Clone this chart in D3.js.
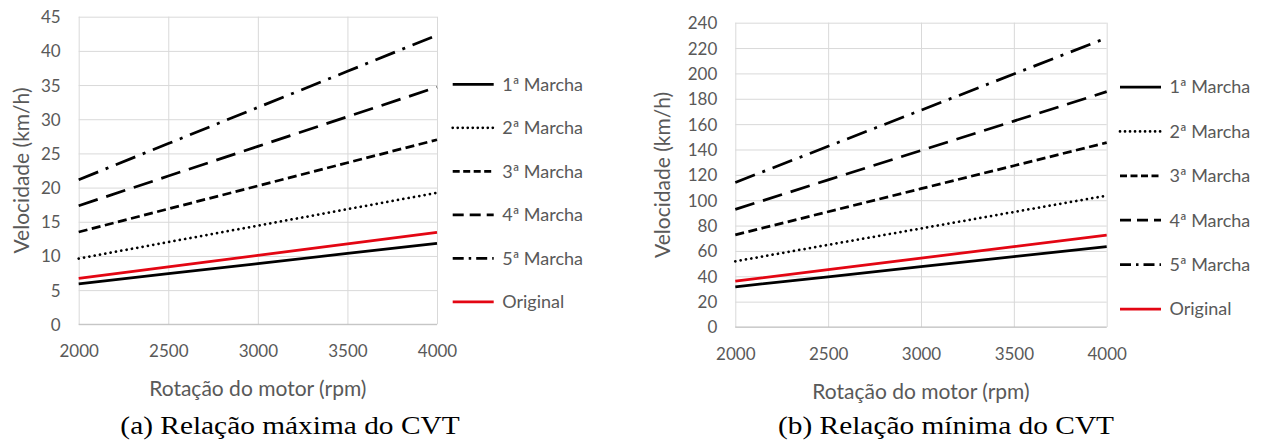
<!DOCTYPE html>
<html>
<head>
<meta charset="utf-8">
<script src="https://cdn.jsdelivr.net/npm/d3@7"></script>
<style>
  body { margin: 0; background: #ffffff; }
  svg { display: block; }
  .chart text { font-family: Lato, "Open Sans", sans-serif; fill: #595959; }
  .caption { font-family: "Liberation Serif", "DejaVu Serif", serif; fill: #000000; }
</style>
</head>
<body>
<svg id="fig" width="1268" height="447"></svg>
<script>
// Engine speed (rpm) sampled along the x axis
const rpm = [2000, 2500, 3000, 3500, 4000];
const xTickValues = [2000, 2500, 3000, 3500, 4000];

const seriesNames = ["1ª Marcha", "2ª Marcha", "3ª Marcha", "4ª Marcha", "5ª Marcha", "Original"];

// Vehicle speed (km/h) with the CVT at its maximum ratio
const maxGear1 = [5.92, 7.40, 8.88, 10.36, 11.84];
const maxGear2 = [9.62, 12.03, 14.43, 16.84, 19.24];
const maxGear3 = [13.50, 16.88, 20.25, 23.63, 27.00];
const maxGear4 = [17.35, 21.69, 26.03, 30.37, 34.70];
const maxGear5 = [21.15, 26.44, 31.73, 37.01, 42.30];
const maxOriginal = [6.72, 8.40, 10.08, 11.76, 13.44];
const yTicksMax = [0, 5, 10, 15, 20, 25, 30, 35, 40, 45];

// Vehicle speed (km/h) with the CVT at its minimum ratio
const minGear1 = [31.7, 39.6, 47.6, 55.5, 63.4];
const minGear2 = [51.8, 64.8, 77.7, 90.7, 103.6];
const minGear3 = [72.7, 90.9, 109.1, 127.2, 145.4];
const minGear4 = [92.8, 116.0, 139.2, 162.4, 185.6];
const minGear5 = [114.0, 142.5, 171.0, 199.5, 228.0];
const minOriginal = [36.2, 45.3, 54.3, 63.4, 72.4];
const yTicksMin = [0, 20, 40, 60, 80, 100, 120, 140, 160, 180, 200, 220, 240];

const xTitle = "Rotação do motor (rpm)";
const yTitle = "Velocidade (km/h)";
const captions = ["(a) Relação máxima do CVT", "(b) Relação mínima do CVT"];

// Line appearance per series (same order as seriesNames)
const lineStyles = [
  { color: "#000000", dash: null,              legendDash: null,            cap: "butt" },
  { color: "#000000", dash: "0.01 5.4",        legendDash: "0.01 5",        cap: "round" },
  { color: "#000000", dash: "9 4.5",           legendDash: "7 3.5",         cap: "butt" },
  { color: "#000000", dash: "20 9",            legendDash: "11 6",          cap: "butt" },
  { color: "#000000", dash: "21 8 3 8",        legendDash: "11 5 2.5 5",    cap: "butt" },
  { color: "#e30613", dash: null,              legendDash: null,            cap: "butt" }
];

const panels = [
  {
    left: 78.7, right: 437, top: 16.7, bottom: 324.3,
    yMax: 45, yTicks: yTicksMax,
    series: [maxGear1, maxGear2, maxGear3, maxGear4, maxGear5, maxOriginal],
    legendX: 452.7, legendY: 84.3, legendStep: 43.5,
    yTitleX: 22, caption: captions[0], captionX: 290
  },
  {
    left: 735.3, right: 1106.7, top: 22.7, bottom: 327,
    yMax: 240, yTicks: yTicksMin,
    series: [minGear1, minGear2, minGear3, minGear4, minGear5, minOriginal],
    legendX: 1120, legendY: 87, legendStep: 44.4,
    yTitleX: 663, caption: captions[1], captionX: 946
  }
];

const svg = d3.select("#fig");

panels.forEach(p => {
  const g = svg.append("g").attr("class", "chart");
  const w = p.right - p.left, h = p.bottom - p.top;

  const x = d3.scaleLinear().domain([2000, 4000]).range([p.left, p.right]);
  const y = d3.scaleLinear().domain([0, p.yMax]).range([p.bottom, p.top]);

  // horizontal gridlines + y tick labels
  const yAxis = g.append("g")
    .attr("transform", `translate(${p.left},0)`)
    .call(d3.axisLeft(y).tickValues(p.yTicks).tickSize(-w).tickPadding(18).tickFormat(d3.format("d")));
  yAxis.select(".domain").remove();
  yAxis.selectAll(".tick line").attr("stroke", "#d9d9d9").attr("stroke-width", 1);
  yAxis.selectAll(".tick text").style("font-size", "17px").attr("dy", "0.35em");

  // vertical gridlines + x tick labels
  const xAxis = g.append("g")
    .attr("transform", `translate(0,${p.bottom})`)
    .call(d3.axisBottom(x).tickValues(xTickValues).tickSize(-h).tickPadding(21).tickFormat(d3.format("d")));
  xAxis.select(".domain").remove();
  xAxis.selectAll(".tick line").attr("stroke", "#d9d9d9").attr("stroke-width", 1);
  xAxis.selectAll(".tick text").style("font-size", "17px");

  // category axis baseline
  g.append("line")
    .attr("x1", p.left).attr("x2", p.right)
    .attr("y1", y(0)).attr("y2", y(0))
    .attr("stroke", "#bfbfbf").attr("stroke-width", 1);

  // series lines
  const line = d3.line().x((d, i) => x(rpm[i])).y(d => y(d));
  p.series.forEach((vals, k) => {
    const s = lineStyles[k];
    g.append("path")
      .datum(vals)
      .attr("d", line)
      .attr("fill", "none")
      .attr("stroke", s.color)
      .attr("stroke-width", 2.75)
      .attr("stroke-linecap", s.cap)
      .attr("stroke-dasharray", s.dash);
  });

  // legend
  seriesNames.forEach((name, k) => {
    const s = lineStyles[k];
    const ly = p.legendY + k * p.legendStep;
    g.append("line")
      .attr("x1", p.legendX).attr("x2", p.legendX + 41)
      .attr("y1", ly).attr("y2", ly)
      .attr("stroke", s.color)
      .attr("stroke-width", 2.75)
      .attr("stroke-linecap", s.cap)
      .attr("stroke-dasharray", s.legendDash);
    g.append("text")
      .attr("x", p.legendX + 49.5).attr("y", ly)
      .attr("dy", "0.35em")
      .style("font-size", "18px")
      .text(name);
  });

  // axis titles
  g.append("text")
    .attr("x", (p.left + p.right) / 2).attr("y", p.bottom + 72)
    .attr("text-anchor", "middle")
    .style("font-size", "21px")
    .text(xTitle);
  g.append("text")
    .attr("transform", `translate(${p.yTitleX},${(p.top + p.bottom) / 2}) rotate(-90)`)
    .attr("text-anchor", "middle")
    .attr("dy", "0.35em")
    .style("font-size", "21px")
    .text(yTitle);

  // sub-figure caption (serif, slightly widened)
  svg.append("text")
    .attr("class", "caption")
    .attr("transform", `translate(${p.captionX},434) scale(1.13,1)`)
    .attr("text-anchor", "middle")
    .style("font-size", "26px")
    .text(p.caption);
});
</script>
</body>
</html>
